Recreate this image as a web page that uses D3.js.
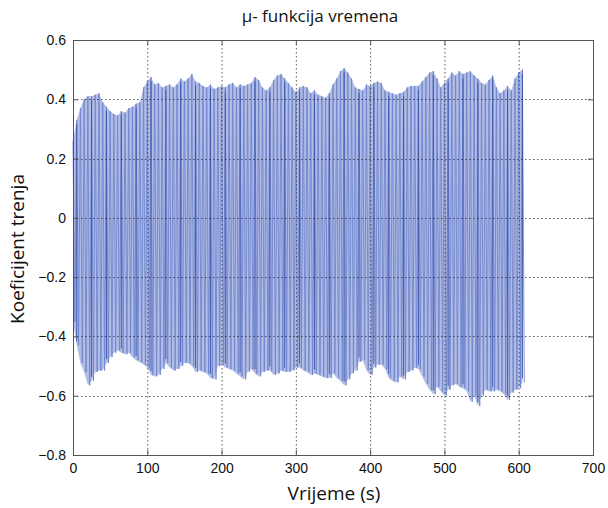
<!DOCTYPE html>
<html><head><meta charset="utf-8">
<script src="https://cdn.jsdelivr.net/npm/d3@7"></script>
<style>body{margin:0;background:#fff}</style></head>
<body><svg id="c" width="608" height="508"></svg>
<script>
const title = "μ- funkcija vremena";
const xLabel = "Vrijeme (s)";
const yLabel = "Koeficijent trenja";
const xTicks = [0,100,200,300,400,500,600,700];
const yTicks = [-0.8,-0.6,-0.4,-0.2,0,0.2,0.4,0.6];
const sampleStep = 5; // s between envelope readings
const upper = [0.26,0.33,0.37,0.40,0.41,0.41,0.415,0.42,0.39,0.375,0.36,0.35,0.345,0.36,0.355,0.37,0.375,0.385,0.39,0.44,
0.46,0.475,0.45,0.455,0.44,0.445,0.45,0.44,0.45,0.47,0.46,0.47,0.485,0.46,0.455,0.445,0.44,0.45,0.435,0.44,
0.445,0.44,0.45,0.455,0.44,0.45,0.445,0.45,0.455,0.475,0.465,0.44,0.43,0.44,0.465,0.48,0.485,0.47,0.455,0.44,
0.425,0.44,0.445,0.44,0.42,0.43,0.415,0.41,0.405,0.42,0.45,0.47,0.495,0.505,0.49,0.47,0.44,0.435,0.43,0.45,
0.445,0.455,0.46,0.455,0.43,0.425,0.42,0.415,0.42,0.425,0.44,0.445,0.445,0.445,0.46,0.475,0.49,0.495,0.47,0.44,
0.455,0.47,0.49,0.48,0.495,0.485,0.49,0.495,0.48,0.47,0.455,0.45,0.465,0.48,0.44,0.42,0.43,0.445,0.43,0.47,
0.49,0.5];
const lower = [-0.35,-0.43,-0.49,-0.52,-0.565,-0.55,-0.52,-0.515,-0.515,-0.49,-0.47,-0.455,-0.447,-0.455,-0.46,-0.455,-0.47,-0.48,-0.487,-0.495,
-0.505,-0.53,-0.535,-0.53,-0.51,-0.49,-0.505,-0.515,-0.51,-0.5,-0.49,-0.49,-0.5,-0.52,-0.515,-0.52,-0.525,-0.54,-0.545,-0.5,
-0.495,-0.505,-0.51,-0.515,-0.525,-0.535,-0.545,-0.52,-0.51,-0.525,-0.535,-0.52,-0.515,-0.515,-0.53,-0.525,-0.515,-0.52,-0.52,-0.515,
-0.505,-0.505,-0.515,-0.52,-0.53,-0.525,-0.53,-0.535,-0.54,-0.54,-0.525,-0.54,-0.55,-0.565,-0.545,-0.525,-0.515,-0.485,-0.48,-0.515,
-0.53,-0.505,-0.495,-0.495,-0.51,-0.54,-0.55,-0.555,-0.535,-0.545,-0.52,-0.515,-0.505,-0.51,-0.535,-0.56,-0.58,-0.595,-0.57,-0.585,
-0.6,-0.58,-0.565,-0.56,-0.57,-0.575,-0.585,-0.62,-0.6,-0.635,-0.6,-0.58,-0.585,-0.585,-0.58,-0.585,-0.595,-0.615,-0.59,-0.58,
-0.575,-0.555];

const svg = d3.select("#c");
const m = {l:73, r:593, t:40, b:455};
const x = d3.scaleLinear().domain([0,700]).range([m.l,m.r]);
const y = d3.scaleLinear().domain([-0.8,0.6]).range([m.b,m.t]);

const data = upper.map((u,i)=>({t:i*sampleStep, u:u, l:lower[i]}));

// band fill
svg.append("path").datum(data)
  .attr("d", d3.area().x(d=>x(d.t)).y0(d=>y(d.l)).y1(d=>y(d.u)))
  .attr("fill","#b2bde5");

// oscillating trace
const zig = [];
data.forEach(d=>{ zig.push({t:d.t, v:d.u}); zig.push({t:d.t+sampleStep/2, v:d.l}); });
svg.append("path").datum(zig)
  .attr("d", d3.line().x(d=>x(d.t)).y(d=>y(d.v)))
  .attr("fill","none").attr("stroke","#7186cc").attr("stroke-width",0.9);

// darker strokes
svg.append("g").selectAll("line").data(data.filter((d,i)=>i%4===1)).join("line")
  .attr("x1",d=>x(d.t)).attr("x2",d=>x(d.t))
  .attr("y1",d=>y(d.u)+4).attr("y2",d=>y(d.l)-4)
  .attr("stroke","#3550b2").attr("stroke-width",0.9);

// grid
const g = svg.append("g");
g.selectAll(".gx").data(xTicks.slice(1,-1)).join("line")
  .attr("x1",d=>x(d)+0.5).attr("x2",d=>x(d)+0.5).attr("y1",m.t).attr("y2",m.b)
  .attr("stroke","#333").attr("stroke-width",1).attr("stroke-dasharray","1.5,2.5").attr("opacity",0.8);
g.selectAll(".gy").data(yTicks.slice(1,-1)).join("line")
  .attr("y1",d=>Math.round(y(d))+0.5).attr("y2",d=>Math.round(y(d))+0.5).attr("x1",m.l).attr("x2",m.r)
  .attr("stroke","#333").attr("stroke-width",1).attr("stroke-dasharray","1.5,2.5").attr("opacity",0.8);

// axes
const fontAx = "Liberation Sans, Arial, sans-serif";
const xa = svg.append("g").attr("transform",`translate(0,${m.b})`)
  .call(d3.axisBottom(x).tickValues(xTicks).tickSize(-5).tickPadding(8).tickFormat(d3.format("d")));
const ya = svg.append("g").attr("transform",`translate(${m.l},0)`)
  .call(d3.axisLeft(y).tickValues(yTicks).tickSize(-5).tickPadding(7).tickFormat(d=>d===0?"0":d3.format(".1f")(d)));
[xa,ya].forEach(a=>{
  a.selectAll("text").attr("font-family",fontAx).attr("font-size",14).attr("fill","#111");
  a.selectAll("line").attr("stroke","#555");
  a.select(".domain").attr("stroke","#555");
});
// top/right ticks and box
svg.append("g").attr("transform",`translate(0,${m.t})`)
  .call(d3.axisTop(x).tickValues(xTicks).tickSize(-5).tickFormat(""))
  .call(a=>{a.selectAll("line").attr("stroke","#555");a.select(".domain").attr("stroke","#555");});
svg.append("g").attr("transform",`translate(${m.r},0)`)
  .call(d3.axisRight(y).tickValues(yTicks).tickSize(-5).tickFormat(""))
  .call(a=>{a.selectAll("line").attr("stroke","#555");a.select(".domain").attr("stroke","#555");});

const fontT = "Open Sans, Noto Sans, sans-serif";
svg.append("text").attr("x",320).attr("y",22).attr("text-anchor","middle")
  .attr("font-family",fontT).attr("font-size",17).attr("fill","#111").text(title);
svg.append("text").attr("x",334).attr("y",500).attr("text-anchor","middle")
  .attr("font-family",fontT).attr("font-size",19).attr("fill","#111").text(xLabel);
svg.append("text").attr("transform",`translate(24,249) rotate(-90)`).attr("text-anchor","middle")
  .attr("font-family",fontT).attr("font-size",19).attr("fill","#111").text(yLabel);
</script></body></html>
